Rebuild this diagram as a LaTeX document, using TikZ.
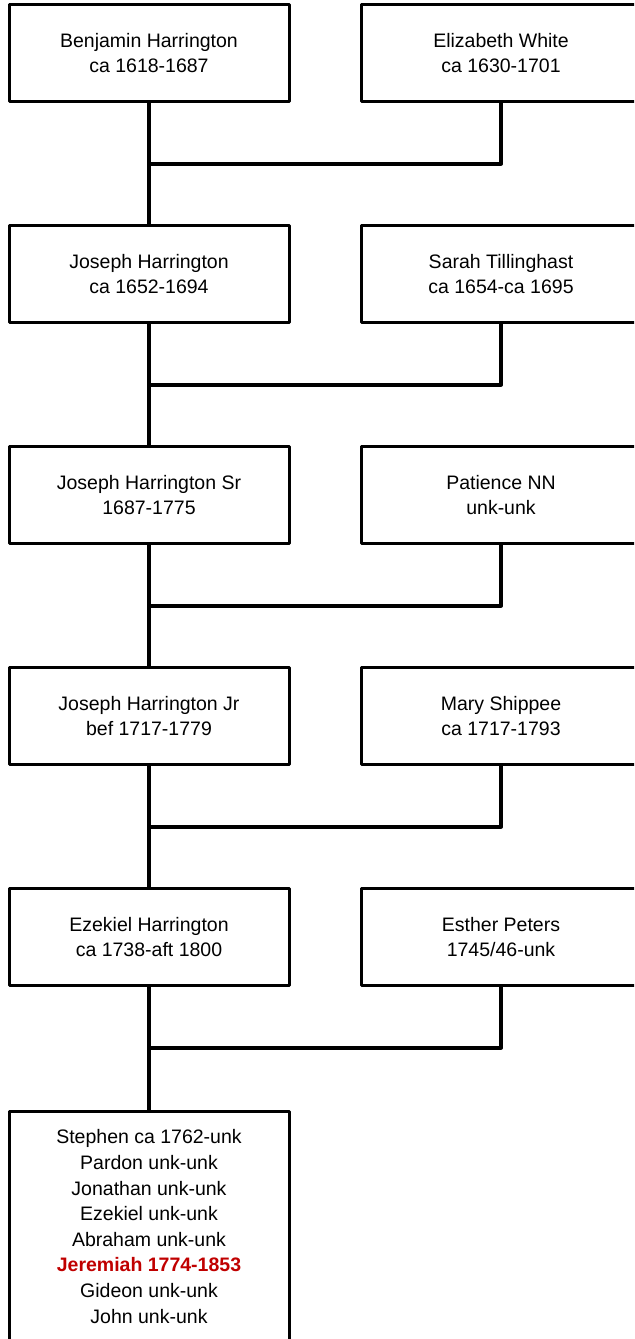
\documentclass[tikz,border=0pt]{standalone}
\usepackage{fontspec}
\setmainfont{Liberation Sans}
\definecolor{jerred}{RGB}{192,0,0}
\begin{document}
\begin{tikzpicture}[x=0.5pt,y=-0.5pt,line cap=round,line join=round,
    font=\fontsize{9.75}{12.7}\selectfont,
    person/.style={draw,line width=1.5pt,minimum width=140pt,minimum height=48.35pt,inner sep=0pt,align=center},
    kids/.style={person,minimum height=115.3pt,anchor=north,font=\fontsize{9.75}{12.8}\selectfont},
    link/.style={line width=2pt}]
    \useasboundingbox (0,0) rectangle (634,1339);
    \clip (0,0) rectangle (634,1339);
    % generation 1
    \node[person] (h1) at (149,53) {Benjamin Harrington\\ca 1618-1687};
    \node[person] (w1) at (501,53) {Elizabeth White\\ca 1630-1701};
    \coordinate (j1) at (149,163.5);
    % generation 2
    \node[person] (h2) at (149,274) {Joseph Harrington\\ca 1652-1694};
    \node[person] (w2) at (501,274) {Sarah Tillinghast\\ca 1654-ca 1695};
    \coordinate (j2) at (149,384.5);
    % generation 3
    \node[person] (h3) at (149,495) {Joseph Harrington Sr\\1687-1775};
    \node[person] (w3) at (501,495) {Patience NN\\unk-unk};
    \coordinate (j3) at (149,605.5);
    % generation 4
    \node[person] (h4) at (149,716) {Joseph Harrington Jr\\bef 1717-1779};
    \node[person] (w4) at (501,716) {Mary Shippee\\ca 1717-1793};
    \coordinate (j4) at (149,826.5);
    % generation 5
    \node[person] (h5) at (149,937) {Ezekiel Harrington\\ca 1738-aft 1800};
    \node[person] (w5) at (501,937) {Esther Peters\\1745/46-unk};
    \coordinate (j5) at (149,1047.5);
    % children
    \node[kids] (c6) at (149,1109.7) {Stephen ca 1762-unk\\Pardon unk-unk\\Jonathan unk-unk\\Ezekiel unk-unk\\Abraham unk-unk\\\textcolor{jerred}{\bfseries Jeremiah 1774-1853}\\Gideon unk-unk\\John unk-unk};
    % connectors
    \draw[link] (h1.south) -- (h2.north);
    \draw[link] (w1.south) |- (j1);
    \draw[link] (h2.south) -- (h3.north);
    \draw[link] (w2.south) |- (j2);
    \draw[link] (h3.south) -- (h4.north);
    \draw[link] (w3.south) |- (j3);
    \draw[link] (h4.south) -- (h5.north);
    \draw[link] (w4.south) |- (j4);
    \draw[link] (h5.south) -- (c6.north);
    \draw[link] (w5.south) |- (j5);
\end{tikzpicture}
\end{document}
